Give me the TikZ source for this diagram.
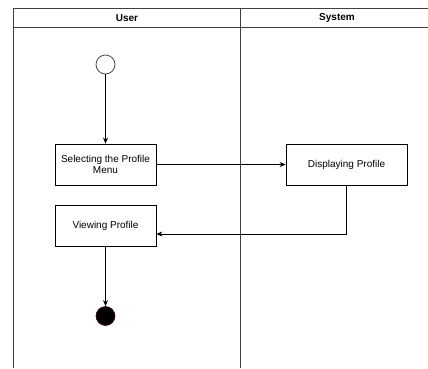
\documentclass[tikz,border=0pt]{standalone}
\usepackage{fontspec}
\setmainfont{Liberation Sans}
\usetikzlibrary{arrows.meta,positioning}

\tikzset{
	action/.style={draw, line width=0.8pt, minimum width=101pt, minimum height=41pt,
		align=center, font=\fontsize{10}{11}\selectfont, inner sep=2pt},
	flow/.style={draw, line width=0.8pt, -{Stealth[length=6pt,width=5pt]}},
	lane/.style={draw=black!75, line width=1pt}
}

\begin{document}
\begin{tikzpicture}[x=1pt,y=-1pt]
	\useasboundingbox (0,0) rectangle (428,368);
	% swimlanes
	\draw[lane] (13.5,368) -- (13.5,8) -- (428,8);
	\draw[lane] (13.5,27) -- (428,27);
	\draw[lane] (240,8) -- (240,368);
	\node[font=\bfseries\fontsize{10}{11}\selectfont] (user) at (127,18) {User};
	\node[font=\bfseries\fontsize{10}{11}\selectfont] (system) at (337,18) {System};
	% activities
	\node[circle, draw=black!70, line width=0.8pt, minimum size=19pt, inner sep=0pt] (start) at (105.5,64.5) {};
	\node[action] (select) at (105.5,164.5) {Selecting the Profile\\Menu};
	\node[action, minimum width=121pt] (display) at (346.5,165) {Displaying Profile};
	\node[action] (view) at (105.5,226) {Viewing Profile};
	\node[circle, fill=black, draw=red!25!black, line width=0.6pt, minimum size=19pt, inner sep=0pt] (stop) at (105.5,316) {};
	\coordinate (turn) at (display.south |- 0,234);
	%\coordinate (turn) at (338,234);
	\draw[flow] (start) -- (select);
	\draw[flow] (select) -- (display.west |- select);
	\draw[flow] (display) -- (turn) -- (view.east |- turn);
	\draw[flow] (view) -- (stop);
\end{tikzpicture}
\end{document}
